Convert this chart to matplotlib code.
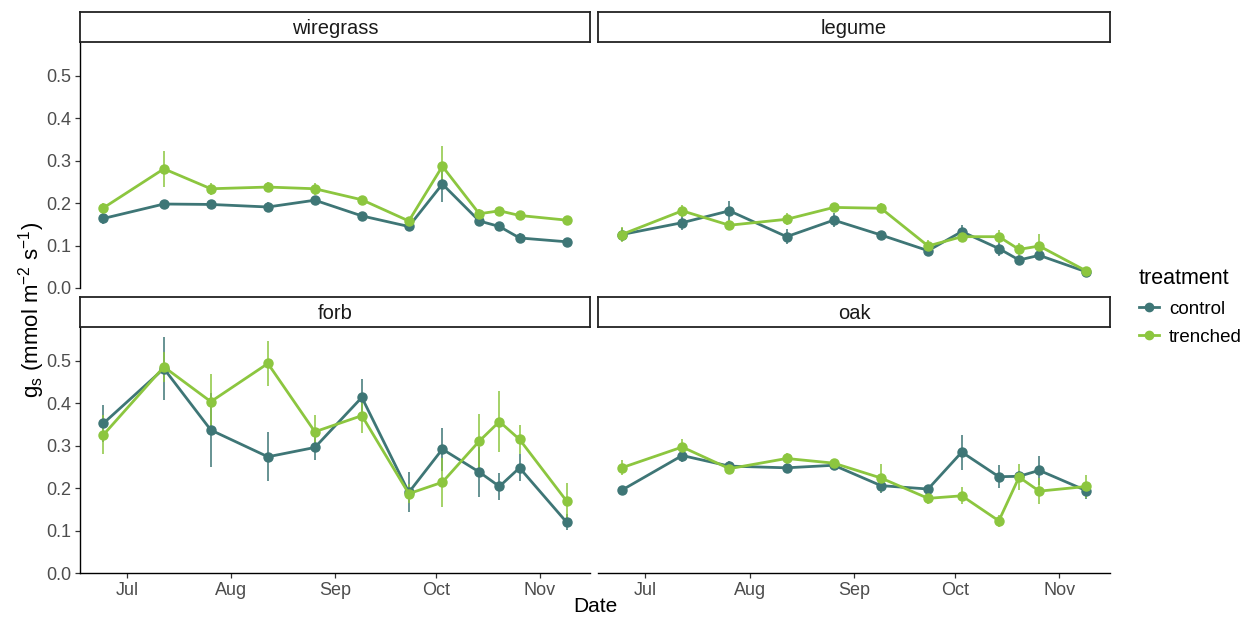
import numpy as np
import pandas as pd
import matplotlib
matplotlib.use('Agg')
import matplotlib.pyplot as plt
import matplotlib.dates as mdates
from matplotlib.lines import Line2D

plt.rcParams['font.family'] = ['Liberation Sans', 'DejaVu Sans']
plt.rcParams['mathtext.fontset'] = 'custom'
plt.rcParams['mathtext.rm'] = 'Liberation Sans'
plt.rcParams['mathtext.it'] = 'Liberation Sans:italic'

# Sampling dates (same for every functional group)
DATES = pd.to_datetime(['2019-06-24', '2019-07-12', '2019-07-26', '2019-08-12',
                        '2019-08-26', '2019-09-09', '2019-09-23', '2019-10-03',
                        '2019-10-14', '2019-10-20', '2019-10-26', '2019-11-09'])

GROUPS = ['wiregrass', 'legume', 'forb', 'oak']
TREATMENTS = ['control', 'trenched']

# Mean stomatal conductance per group and treatment
wiregrass_control = [0.164, 0.198, 0.197, 0.191, 0.207, 0.170, 0.145, 0.245, 0.158, 0.145, 0.118, 0.109]
wiregrass_trenched = [0.189, 0.281, 0.234, 0.238, 0.234, 0.208, 0.158, 0.287, 0.175, 0.182, 0.171, 0.160]
legume_control = [0.126, 0.154, 0.182, 0.121, 0.160, 0.125, 0.088, 0.133, 0.093, 0.066, 0.077, 0.038]
legume_trenched = [0.126, 0.182, 0.148, 0.162, 0.190, 0.188, 0.099, 0.121, 0.121, 0.091, 0.099, 0.040]
forb_control = [0.353, 0.482, 0.337, 0.274, 0.296, 0.414, 0.190, 0.292, 0.238, 0.204, 0.248, 0.120]
forb_trenched = [0.326, 0.486, 0.404, 0.494, 0.333, 0.371, 0.187, 0.214, 0.311, 0.357, 0.315, 0.170]
oak_control = [0.195, 0.277, 0.252, 0.248, 0.254, 0.206, 0.198, 0.285, 0.227, 0.228, 0.242, 0.194]
oak_trenched = [0.248, 0.297, 0.246, 0.270, 0.259, 0.224, 0.176, 0.182, 0.123, 0.226, 0.193, 0.204]

# Standard errors
wiregrass_control_se = [0.012, 0.006, 0.008, 0.012, 0.010, 0.008, 0.008, 0.043, 0.012, 0.010, 0.012, 0.006]
wiregrass_trenched_se = [0.012, 0.042, 0.014, 0.012, 0.014, 0.010, 0.008, 0.048, 0.012, 0.010, 0.008, 0.010]
legume_control_se = [0.015, 0.018, 0.024, 0.018, 0.016, 0.008, 0.010, 0.015, 0.018, 0.008, 0.012, 0.008]
legume_trenched_se = [0.018, 0.014, 0.012, 0.014, 0.008, 0.012, 0.014, 0.010, 0.016, 0.016, 0.028, 0.006]
forb_control_se = [0.043, 0.075, 0.087, 0.058, 0.030, 0.044, 0.047, 0.051, 0.058, 0.032, 0.032, 0.018]
forb_trenched_se = [0.046, 0.035, 0.066, 0.053, 0.040, 0.042, 0.023, 0.058, 0.064, 0.072, 0.034, 0.043]
oak_control_se = [0.006, 0.015, 0.012, 0.012, 0.010, 0.018, 0.010, 0.041, 0.027, 0.012, 0.035, 0.020]
oak_trenched_se = [0.018, 0.020, 0.010, 0.014, 0.010, 0.033, 0.014, 0.020, 0.014, 0.030, 0.030, 0.028]

MEANS = {
    'wiregrass': (wiregrass_control, wiregrass_trenched),
    'legume': (legume_control, legume_trenched),
    'forb': (forb_control, forb_trenched),
    'oak': (oak_control, oak_trenched),
}
ERRORS = {
    'wiregrass': (wiregrass_control_se, wiregrass_trenched_se),
    'legume': (legume_control_se, legume_trenched_se),
    'forb': (forb_control_se, forb_trenched_se),
    'oak': (oak_control_se, oak_trenched_se),
}

COLORS = {'control': '#3e7676', 'trenched': '#8cc63f'}

W, H = 1247, 617
fig = plt.figure(figsize=(W / 100, H / 100), dpi=100)


def px_box(x0, y0, x1, y1):
    return [x0 / W, 1 - y1 / H, (x1 - x0) / W, (y1 - y0) / H]


# panel pixel extents: columns (x0, x1), rows (strip_top, plot_top, plot_bottom)
COLS = [(80, 590), (598, 1110)]
ROWS = [(12, 42, 288), (297, 327, 573)]

xmin = pd.Timestamp('2019-06-17')
xmax = pd.Timestamp('2019-11-16')

for idx, group in enumerate(GROUPS):
    row, col = divmod(idx, 2)
    x0, x1 = COLS[col]
    s_top, p_top, p_bot = ROWS[row]

    ax = fig.add_axes(px_box(x0, p_top, x1, p_bot))
    for t_i, treat in enumerate(TREATMENTS):
        y = np.array(MEANS[group][t_i])
        se = np.array(ERRORS[group][t_i])
        c = COLORS[treat]
        ax.vlines(DATES, y - se, y + se, color=c, lw=1.3, alpha=0.85, zorder=2)
        ax.plot(DATES, y, color=c, lw=2.0, marker='o', ms=6.5, zorder=3,
                solid_joinstyle='round', solid_capstyle='round')

    ax.set_xlim(xmin, xmax)
    ax.set_ylim(0, 0.58)
    ax.set_yticks([0.0, 0.1, 0.2, 0.3, 0.4, 0.5])
    ax.yaxis.set_major_formatter(plt.FormatStrFormatter('%.1f'))
    ax.xaxis.set_major_locator(mdates.MonthLocator(bymonth=[7, 8, 9, 10, 11]))
    ax.xaxis.set_major_formatter(mdates.DateFormatter('%b'))
    ax.tick_params(colors='#333333', labelcolor='#4d4d4d', labelsize=13,
                   length=3.5, width=0.9, pad=3)
    for side in ['top', 'right']:
        ax.spines[side].set_visible(False)
    ax.spines['left'].set_visible(col == 0)
    ax.spines['bottom'].set_visible(row == 1)
    for side in ['left', 'bottom']:
        ax.spines[side].set_linewidth(1.0)
        ax.spines[side].set_color('black')
    if col == 1:
        ax.tick_params(axis='y', left=False, labelleft=False)
    if row == 0:
        ax.tick_params(axis='x', bottom=False, labelbottom=False)

    # facet strip
    sax = fig.add_axes(px_box(x0, s_top, x1, p_top))
    sax.set_xticks([])
    sax.set_yticks([])
    for sp in sax.spines.values():
        sp.set_linewidth(1.3)
        sp.set_color('#222222')
    sax.text(0.5, 0.45, group, ha='center', va='center', fontsize=14.5,
             color='#1a1a1a', transform=sax.transAxes)

fig.text(595 / W, 1 - 607 / H, 'Date', ha='center', va='center', fontsize=15)
fig.text(32 / W, 1 - 310 / H,
         r'g$_\mathregular{s}$ (mmol m$^{\mathregular{-2}}$ s$^{\mathregular{-1}}$)',
         ha='center', va='center', rotation=90, fontsize=16)

handles = [Line2D([], [], color=COLORS[t], lw=2.0, marker='o', ms=6) for t in TREATMENTS]
leg = fig.legend(handles, TREATMENTS, title='treatment', loc='center left',
                 bbox_to_anchor=(1139 / W, 1 - 307 / H), frameon=False,
                 fontsize=13.5, title_fontsize=15.5, handlelength=1.05,
                 handletextpad=0.55, labelspacing=0.6, borderpad=0,
                 borderaxespad=0, alignment='left')

fig.savefig('out.png', dpi=100)
